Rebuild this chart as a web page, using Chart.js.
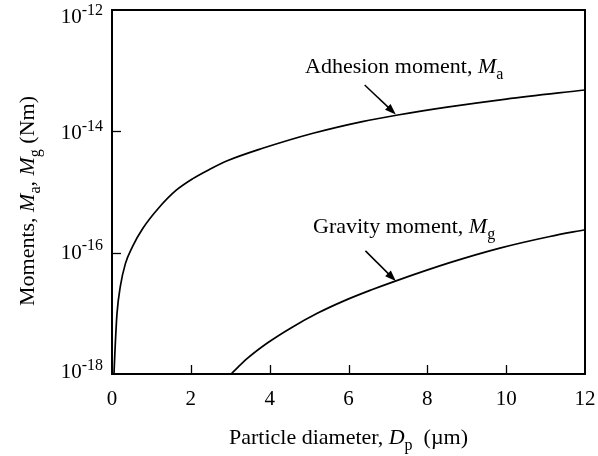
<!DOCTYPE html>
<html>
<head>
<meta charset="utf-8">
<script src="https://cdn.jsdelivr.net/npm/chart.js@4.4.1/dist/chart.umd.min.js"></script>
<style>
  html, body { margin: 0; padding: 0; background: #fff; }
  #wrap { width: 598px; height: 456px; }
</style>
</head>
<body>
<div id="wrap"><canvas id="momentChart"></canvas></div>
<script>
// Particle diameter Dp (um) and moments (Nm)
const adhesionD = [0.05, 0.08, 0.127, 0.21, 0.34, 0.52, 0.78, 1.2, 1.63, 2.05, 2.47, 2.94, 3.82, 5.1, 6.35, 7.25, 8.5, 10, 12];
const adhesionM = [1.0e-18, 2.8e-18, 1.0e-17, 2.75e-17, 6.6e-17, 1.26e-16, 2.5e-16, 5.6e-16, 1.07e-15, 1.66e-15, 2.35e-15, 3.3e-15, 5.25e-15, 9.3e-15, 1.45e-14, 1.86e-14, 2.5e-14, 3.4e-14, 4.8e-14];
const gravityD = [3.02, 3.44, 3.95, 4.54, 5.22, 5.9, 6.57, 7.17, 8.57, 9.84, 11.11, 12];
const gravityM = [1.0e-18, 1.82e-18, 3.27e-18, 5.75e-18, 1.01e-17, 1.62e-17, 2.42e-17, 3.37e-17, 6.85e-17, 1.19e-16, 1.85e-16, 2.39e-16];

// axis ticks
const xTicks = [0, 2, 4, 6, 8, 10, 12];
const yTickExps = [-18, -16, -14, -12];

const FONT = '"Liberation Serif", "Times New Roman", serif';

function toPoints(xs, ys) {
    return xs.map((x, i) => ({ x: x, y: ys[i] }));
}

// draws a run of text pieces: n = normal, i = italic, sub = subscript, sup = superscript
function drawRich(ctx, parts, x, y, size, align, small) {
    const subSize = small || Math.round(size * 0.72);
    const fontFor = (s) => (s === 'i' ? 'italic ' : '') + ((s === 'sub' || s === 'sup') ? subSize : size) + 'px ' + FONT;
    let total = 0;
    parts.forEach(p => { ctx.font = fontFor(p[1]); total += ctx.measureText(p[0]).width; });
    let cx = align === 'center' ? x - total / 2 : (align === 'right' ? x - total : x);
    ctx.textAlign = 'left';
    ctx.textBaseline = 'alphabetic';
    parts.forEach(p => {
        ctx.font = fontFor(p[1]);
        let dy = 0;
        if (p[1] === 'sub') dy = size * 0.28;
        if (p[1] === 'sup') dy = -size * 0.4;
        ctx.fillText(p[0], cx, y + dy);
        cx += ctx.measureText(p[0]).width;
    });
}

function arrow(ctx, x1, y1, x2, y2) {
    const ang = Math.atan2(y2 - y1, x2 - x1);
    const len = 11, w = 4;
    ctx.beginPath();
    ctx.moveTo(x1, y1);
    ctx.lineTo(x2 - len * Math.cos(ang) * 0.8, y2 - len * Math.sin(ang) * 0.8);
    ctx.stroke();
    ctx.beginPath();
    ctx.moveTo(x2, y2);
    ctx.lineTo(x2 - len * Math.cos(ang) + w * Math.sin(ang), y2 - len * Math.sin(ang) - w * Math.cos(ang));
    ctx.lineTo(x2 - len * Math.cos(ang) - w * Math.sin(ang), y2 - len * Math.sin(ang) + w * Math.cos(ang));
    ctx.closePath();
    ctx.fill();
}

// frame, inward ticks, y labels with exponents, titles and curve labels
const decorPlugin = {
    id: 'decor',
    afterDraw(chart) {
        const ctx = chart.ctx;
        const a = chart.chartArea;
        const xs = chart.scales.x, ys = chart.scales.y;
        ctx.save();
        ctx.strokeStyle = '#000';
        ctx.fillStyle = '#000';

        ctx.lineWidth = 2;
        ctx.strokeRect(a.left, a.top, a.right - a.left, a.bottom - a.top);

        ctx.lineWidth = 1.3;
        xTicks.slice(1, -1).forEach(v => {
            const px = Math.round(xs.getPixelForValue(v)) + 0.5;
            ctx.beginPath(); ctx.moveTo(px, a.bottom); ctx.lineTo(px, a.bottom - 9); ctx.stroke();
        });
        yTickExps.slice(1, -1).forEach(e => {
            const py = Math.round(ys.getPixelForValue(Math.pow(10, e))) + 0.5;
            ctx.beginPath(); ctx.moveTo(a.left, py); ctx.lineTo(a.left + 9, py); ctx.stroke();
        });

        // y tick labels 10^n (top one sits a little lower, bottom one a little higher)
        const labelShift = { '-18': 4, '-16': 6, '-14': 8, '-12': 13 };
        yTickExps.forEach(e => {
            const py = ys.getPixelForValue(Math.pow(10, e));
            drawRich(ctx, [['10', 'n'], [String(e), 'sup']], a.left - 9, py + labelShift[e], 21, 'right', 16);
        });

        // x tick labels
        ctx.font = '21px ' + FONT;
        ctx.textAlign = 'center';
        xTicks.forEach(v => {
            ctx.fillText(String(v), xs.getPixelForValue(v), a.bottom + 31);
        });

        // axis titles
        drawRich(ctx, [['Particle diameter, ', 'n'], ['D', 'i'], ['p', 'sub'], ['  (\u00b5m)', 'n']], (a.left + a.right) / 2, a.bottom + 70, 22, 'center', 16);
        ctx.save();
        ctx.translate(34, (a.top + a.bottom) / 2 + 9);
        ctx.rotate(-Math.PI / 2);
        drawRich(ctx, [['Moments, ', 'n'], ['M', 'i'], ['a', 'sub'], [', ', 'n'], ['M', 'i'], ['g', 'sub'], [' (Nm)', 'n']], 0, 0, 22, 'center', 16);
        ctx.restore();

        // curve labels and arrows
        drawRich(ctx, [['Adhesion moment, ', 'n'], ['M', 'i'], ['a', 'sub']], 305, 73, 22, 'left', 16);
        drawRich(ctx, [['Gravity moment, ', 'n'], ['M', 'i'], ['g', 'sub']], 313, 233, 22, 'left', 16);
        ctx.lineWidth = 1.5;
        arrow(ctx, xs.getPixelForValue(6.41), ys.getPixelForValue(5.8e-14), xs.getPixelForValue(7.2), ys.getPixelForValue(1.9e-14));
        arrow(ctx, xs.getPixelForValue(6.43), ys.getPixelForValue(1.07e-16), xs.getPixelForValue(7.2), ys.getPixelForValue(3.4e-17));
        ctx.restore();
    }
};

const ctx = document.getElementById('momentChart').getContext('2d');

const data = {
    datasets: [
        {
            label: 'Adhesion moment',
            data: toPoints(adhesionD, adhesionM),
            borderColor: '#000',
            borderWidth: 1.7,
            pointRadius: 0,
            cubicInterpolationMode: 'monotone'
        },
        {
            label: 'Gravity moment',
            data: toPoints(gravityD, gravityM),
            borderColor: '#000',
            borderWidth: 1.7,
            pointRadius: 0,
            cubicInterpolationMode: 'monotone'
        }
    ]
};

const config = {
    type: 'line',
    data: data,
    options: {
        responsive: true,
        maintainAspectRatio: false,
        animation: false,
        layout: { padding: { top: 10, right: 13, left: 0, bottom: 0 } },
        plugins: {
            legend: { display: false },
            tooltip: { enabled: false }
        },
        scales: {
            x: {
                type: 'linear',
                min: 0,
                max: 12,
                grid: { display: false },
                border: { display: false },
                ticks: { display: false },
                afterFit(scale) { scale.height = 82; }
            },
            y: {
                type: 'logarithmic',
                min: 1e-18,
                max: 1e-12,
                grid: { display: false },
                border: { display: false },
                ticks: { display: false },
                afterFit(scale) { scale.width = 112; }
            }
        }
    },
    plugins: [decorPlugin]
};

const momentChart = new Chart(ctx, config);
</script>
</body>
</html>
